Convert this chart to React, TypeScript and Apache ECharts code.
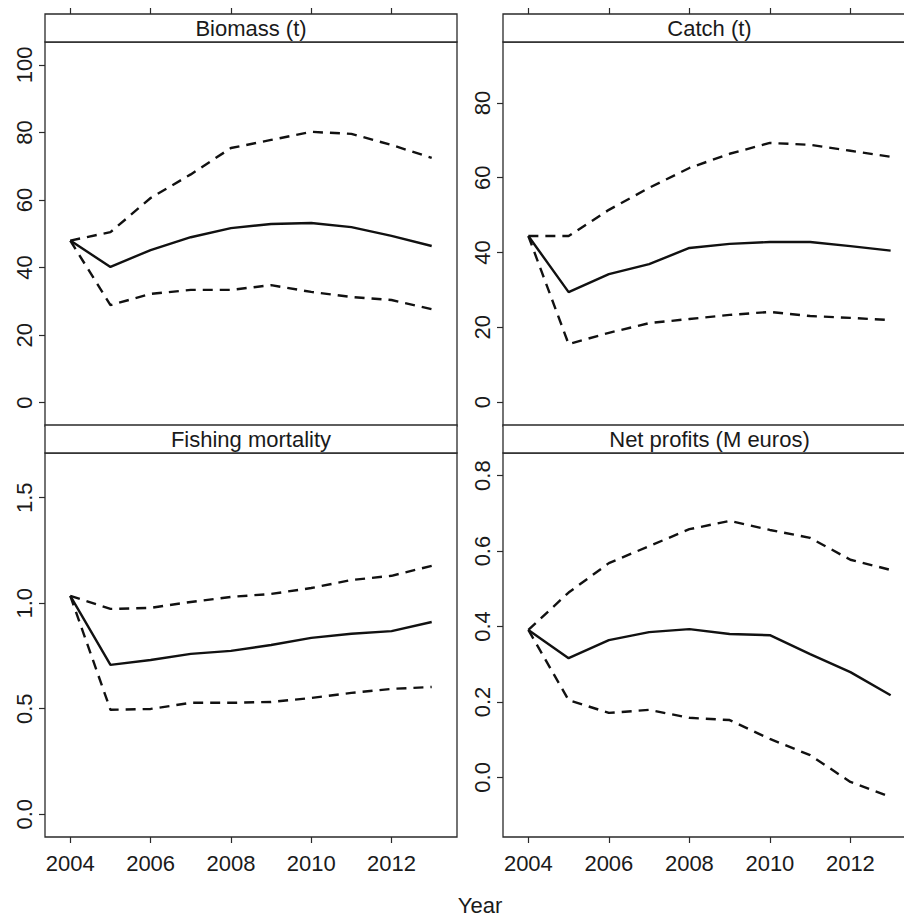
import React, { useEffect, useRef } from "react";
import * as echarts from "echarts";

const years = [2004, 2005, 2006, 2007, 2008, 2009, 2010, 2011, 2012, 2013];
const yearTicks = [2004, 2006, 2008, 2010, 2012];

const biomassMean = [48, 40.2, 45.2, 49, 51.7, 52.9, 53.2, 52, 49.4, 46.4];
const biomassUpper = [48, 50.5, 60.6, 67.6, 75.4, 77.8, 80.2, 79.6, 76.3, 72.5];
const biomassLower = [48, 28.9, 32.2, 33.4, 33.4, 34.8, 32.8, 31.3, 30.4, 27.7];

const catchMean = [44.4, 29.4, 34.2, 36.9, 41.2, 42.3, 42.8, 42.8, 41.7, 40.5];
const catchUpper = [44.4, 44.4, 51.4, 57.3, 62.6, 66.4, 69.3, 68.8, 67.2, 65.6];
const catchLower = [44.4, 15.5, 18.5, 21.1, 22.2, 23.3, 24.1, 23, 22.5, 21.9];

const fishingMean = [1.035, 0.708, 0.731, 0.76, 0.774, 0.802, 0.836, 0.855, 0.868, 0.911];
const fishingUpper = [1.035, 0.973, 0.978, 1.006, 1.03, 1.044, 1.072, 1.11, 1.13, 1.177];
const fishingLower = [1.035, 0.495, 0.499, 0.528, 0.528, 0.532, 0.551, 0.575, 0.594, 0.603];

const profitMean = [0.391, 0.316, 0.364, 0.385, 0.393, 0.38, 0.377, 0.327, 0.279, 0.218];
const profitUpper = [0.391, 0.49, 0.568, 0.613, 0.658, 0.68, 0.656, 0.635, 0.577, 0.55];
const profitLower = [0.391, 0.205, 0.171, 0.179, 0.158, 0.152, 0.102, 0.059, -0.012, -0.052];

const panelTitles = ["Biomass (t)", "Catch (t)", "Fishing mortality", "Net profits (M euros)"];
const yTicks = [
  [0, 20, 40, 60, 80, 100],
  [0, 20, 40, 60, 80],
  [0, 0.5, 1.0, 1.5],
  [0, 0.2, 0.4, 0.6, 0.8],
];
const yRanges = [
  [-6.9, 106.8],
  [-6.42, 96.3],
  [-0.108, 1.712],
  [-0.158, 0.86],
];
const yDecimals = [0, 0, 1, 1];
const xRange = [2003.37, 2013.63];

const FONT = "Liberation Sans";
const TEXT = "#1a1a1a";
const BORDER = "#2a2a2a";

export default function App() {
  const ref = useRef<HTMLDivElement>(null);

  useEffect(() => {
    if (!ref.current) return;
    const chart = echarts.init(ref.current, null, { renderer: "svg" });

    const panels = [
      { left: 45, top: 42, width: 412, height: 384 },
      { left: 503, top: 42, width: 413, height: 384 },
      { left: 45, top: 453, width: 412, height: 384 },
      { left: 503, top: 453, width: 413, height: 384 },
    ];
    const seriesSets = [
      [biomassMean, biomassUpper, biomassLower],
      [catchMean, catchUpper, catchLower],
      [fishingMean, fishingUpper, fishingLower],
      [profitMean, profitUpper, profitLower],
    ];

    const grid = panels.map((p) => ({
      left: p.left,
      top: p.top,
      width: p.width,
      height: p.height,
      show: true,
      borderColor: BORDER,
      borderWidth: 1.3,
      backgroundColor: "transparent",
      containLabel: false,
      outerBoundsMode: "none",
    }));

    const xAxis = panels.map((p, i) => {
      const isTop = i < 2;
      return {
        type: "value",
        gridIndex: i,
        min: xRange[0],
        max: xRange[1],
        position: isTop ? "top" : "bottom",
        offset: isTop ? 28 : 0,
        axisLine: { show: false, onZero: false },
        splitLine: { show: false },
        axisTick: {
          show: true,
          inside: false,
          length: 6,
          customValues: yearTicks,
          lineStyle: { color: BORDER, width: 1.2 },
        },
        axisLabel: {
          show: !isTop,
          customValues: yearTicks,
          margin: 15,
          fontSize: 22,
          fontFamily: FONT,
          color: TEXT,
          formatter: (v: number) => String(v),
        },
      };
    });

    const yAxis = panels.map((p, i) => ({
      type: "value",
      gridIndex: i,
      min: yRanges[i][0],
      max: yRanges[i][1],
      position: "left",
      axisLine: { show: false, onZero: false },
      splitLine: { show: false },
      axisTick: {
        show: true,
        inside: false,
        length: 6,
        customValues: yTicks[i],
        lineStyle: { color: BORDER, width: 1.2 },
      },
      axisLabel: {
        show: true,
        customValues: yTicks[i],
        rotate: 90,
        margin: 10,
        fontSize: 22,
        fontFamily: FONT,
        color: TEXT,
        formatter: (v: number) => v.toFixed(yDecimals[i]),
      },
    }));

    const series: any[] = [];
    seriesSets.forEach((set, i) => {
      set.forEach((vals, k) => {
        series.push({
          type: "line",
          xAxisIndex: i,
          yAxisIndex: i,
          showSymbol: false,
          symbol: "none",
          silent: true,
          data: years.map((y, j) => [y, vals[j]]),
          lineStyle: {
            color: "#111",
            width: 2.4,
            type: k === 0 ? "solid" : [10, 7],
          },
          z: 3,
        });
      });
    });

    const graphic: any[] = [];
    panels.forEach((p, i) => {
      const stripTop = p.top - 28;
      graphic.push({
        type: "rect",
        shape: { x: p.left, y: stripTop, width: p.width, height: 28 },
        style: { fill: "#fff", stroke: BORDER, lineWidth: 1.3 },
        z: 5,
      });
      graphic.push({
        type: "text",
        x: p.left + p.width / 2,
        y: stripTop + 14,
        style: {
          text: panelTitles[i],
          fontSize: 22,
          fontFamily: FONT,
          fill: TEXT,
          align: "center",
          verticalAlign: "middle",
        },
        z: 6,
      });
    });
    graphic.push({
      type: "text",
      x: 480,
      y: 905,
      style: {
        text: "Year",
        fontSize: 22,
        fontFamily: FONT,
        fill: TEXT,
        align: "center",
        verticalAlign: "middle",
      },
    });

    chart.setOption({
      animation: false,
      backgroundColor: "#fff",
      grid,
      xAxis,
      yAxis,
      series,
      graphic,
    });

    return () => chart.dispose();
  }, []);

  return (
    <div
      ref={ref}
      style={{ position: "fixed", left: 0, top: 0, width: 904, height: 916 }}
    />
  );
}
